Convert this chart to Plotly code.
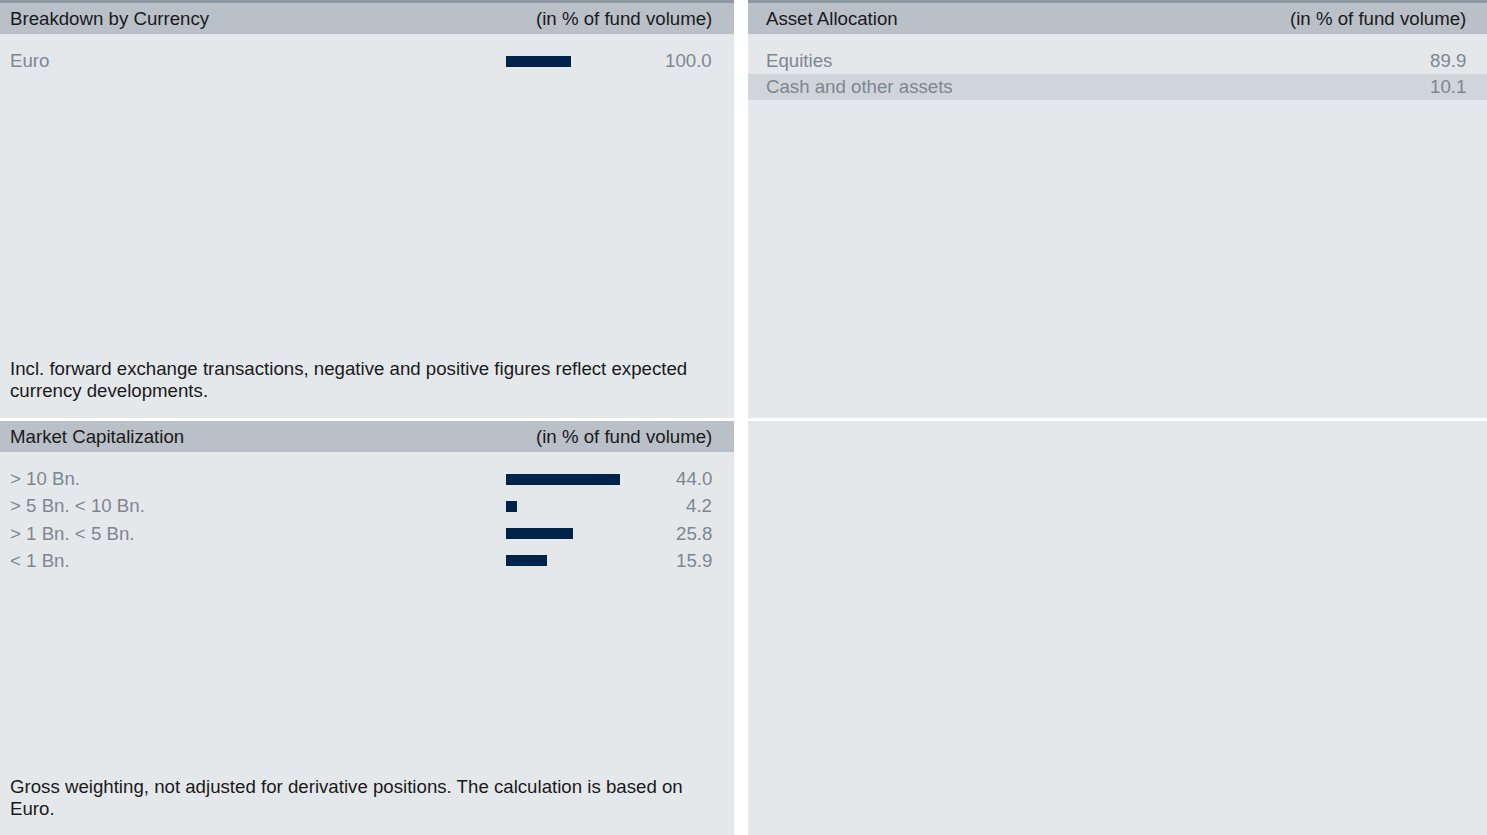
import plotly.graph_objects as go

W, H = 1487, 835

# ---------------- data ----------------
currency_labels = ["Euro"]
currency_values = [100.0]

asset_labels = ["Equities", "Cash and other assets"]
asset_values = [89.9, 10.1]

mcap_labels = ["> 10 Bn.", "> 5 Bn. < 10 Bn.", "> 1 Bn. < 5 Bn.", "< 1 Bn."]
mcap_values = [44.0, 4.2, 25.8, 15.9]

titles = {
    "currency": "Breakdown by Currency",
    "asset": "Asset Allocation",
    "mcap": "Market Capitalization",
}
unit_label = "(in % of fund volume)"
currency_note = ["Incl. forward exchange transactions, negative and positive figures reflect expected",
                 "currency developments."]
mcap_note = ["Gross weighting, not adjusted for derivative positions. The calculation is based on",
             "Euro."]

# ---------------- style ----------------
FONT = "Liberation Sans, Arial, sans-serif"
BG = "#e5e8eb"
HEAD = "#b9c0c7"
STRIP = "#8e99a3"
ROWHL = "#d0d5d9"
BAR = "#00234a"
LABEL = "#7d878f"
TEXT = "#1a1a1a"
FS = 18.67


def px(x):
    return x / W


def py(y):
    return 1 - y / H


fig = go.Figure()

# bars
fig.add_trace(go.Bar(x=currency_values, y=currency_labels, orientation="h",
                     marker=dict(color=BAR, line=dict(width=0)), width=0.38,
                     xaxis="x", yaxis="y", hoverinfo="skip", showlegend=False))
fig.add_trace(go.Bar(x=mcap_values, y=mcap_labels, orientation="h",
                     marker=dict(color=BAR, line=dict(width=0)), width=0.38,
                     xaxis="x2", yaxis="y2", hoverinfo="skip", showlegend=False))
# invisible trace to hold the asset allocation axis
fig.add_trace(go.Scatter(x=[0] * len(asset_labels), y=asset_labels, mode="markers",
                         marker=dict(opacity=0), xaxis="x3", yaxis="y3",
                         hoverinfo="skip", showlegend=False))

shapes = []
annotations = []


def rect(x0, y0, x1, y1, color):
    shapes.append(dict(type="rect", xref="paper", yref="paper",
                       x0=px(x0), x1=px(x1), y0=py(y1), y1=py(y0),
                       fillcolor=color, line=dict(width=0), layer="below"))


def text(x, y, t, anchor="left", color=TEXT, yref="paper", yval=None):
    # compensate for the annotation's internal padding (~2 px)
    xx = x - 2 if anchor == "left" else x + 2
    annotations.append(dict(xref="paper", yref=yref, x=px(xx),
                            y=py(y) if yval is None else yval,
                            text=t, showarrow=False, xanchor=anchor, yanchor="middle",
                            align="left", font=dict(family=FONT, size=FS, color=color)))


# panels
# top-left
rect(0, 0, 734, 418, BG)
rect(0, 0, 734, 3, STRIP)
rect(0, 3, 734, 34, HEAD)
# top-right
rect(748, 0, W, 418, BG)
rect(748, 0, W, 3, STRIP)
rect(748, 3, W, 34, HEAD)
# bottom-left
rect(0, 421, 734, H, BG)
rect(0, 421, 734, 452, HEAD)
# bottom-right
rect(748, 421, W, H, BG)

# row highlight for asset allocation (odd rows)
for i, lab in enumerate(asset_labels):
    if i % 2 == 1:
        shapes.append(dict(type="rect", xref="paper", yref="y3",
                           x0=px(748), x1=1, y0=i - 0.5, y1=i + 0.5,
                           fillcolor=ROWHL, line=dict(width=0), layer="below"))

# headers
text(10, 18.5, titles["currency"])
text(712, 18.5, unit_label, anchor="right")
text(766, 18.5, titles["asset"])
text(1466, 18.5, unit_label, anchor="right")
text(10, 436.5, titles["mcap"])
text(712, 436.5, unit_label, anchor="right")

# row labels and values
for lab, v in zip(currency_labels, currency_values):
    text(10, 0, lab, color=LABEL, yref="y", yval=lab)
    text(712, 0, f"{v:.1f}", anchor="right", color=LABEL, yref="y", yval=lab)
for lab, v in zip(asset_labels, asset_values):
    text(766, 0, lab, color=LABEL, yref="y3", yval=lab)
    text(1466, 0, f"{v:.1f}", anchor="right", color=LABEL, yref="y3", yval=lab)
for lab, v in zip(mcap_labels, mcap_values):
    text(10, 0, lab, color=LABEL, yref="y2", yval=lab)
    text(712, 0, f"{v:.1f}", anchor="right", color=LABEL, yref="y2", yval=lab)

# notes (one annotation per line, 22 px line spacing)
for k, line in enumerate(currency_note):
    text(10, 368 + 22 * k, line)
for k, line in enumerate(mcap_note):
    text(10, 786 + 22 * k, line)

hidden = dict(visible=False, showgrid=False, zeroline=False, fixedrange=True)

fig.update_layout(
    width=W, height=H,
    margin=dict(l=0, r=0, t=0, b=0),
    paper_bgcolor="white", plot_bgcolor="rgba(0,0,0,0)",
    shapes=shapes, annotations=annotations,
    bargap=0,
    xaxis=dict(domain=[px(506), px(571)], range=[0, 100], **hidden),
    yaxis=dict(domain=[py(74.5), py(47.5)], range=[0.5, -0.5], type="category",
               anchor="x", **hidden),
    xaxis2=dict(domain=[px(506), px(620)], range=[0, 44], anchor="y2", **hidden),
    yaxis2=dict(domain=[py(573.5), py(465.5)], range=[3.5, -0.5], type="category",
                anchor="x2", **hidden),
    xaxis3=dict(domain=[px(748), 1], range=[0, 1], anchor="y3", **hidden),
    yaxis3=dict(domain=[py(100), py(48)], range=[1.5, -0.5], type="category",
                anchor="x3", **hidden),
)

fig.write_html("out.html", config={"displayModeBar": False},
               post_script="document.body.style.margin='0';document.body.style.overflow='hidden';")
